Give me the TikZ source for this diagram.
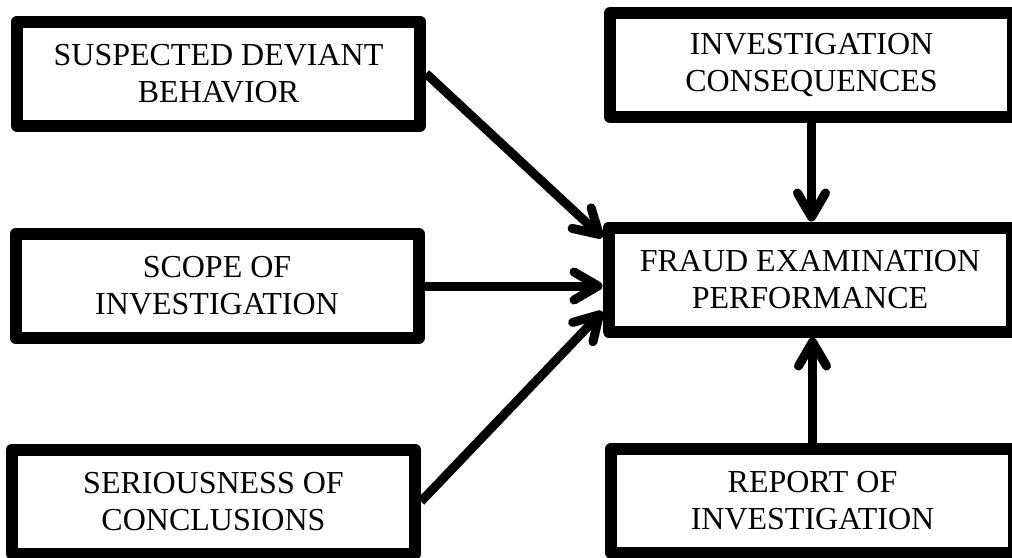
\documentclass[tikz,border=0pt]{standalone}
\usepackage{fontspec}
\setmainfont{Liberation Serif}
\usepackage{tikz}
\usetikzlibrary{arrows.meta}

\begin{document}
\begin{tikzpicture}[
    x=0.5pt, y=-0.5pt,
    every node/.style={font=\fontsize{16}{18.5}\selectfont},
    box/.style={draw, line width=6pt, line join=round, align=center,
                minimum width=201.5pt, minimum height=52pt, inner sep=0pt},
    link/.style={line width=4.5pt, -{Straight Barb[length=12pt,width=14pt,round]}}
]
\useasboundingbox (0,0) rectangle (1012,557);

% Factors on the left
\node[box] (deviant) at (218.5,73.5) {SUSPECTED DEVIANT\\BEHAVIOR};
\node[box] (scope) at (217,286) {SCOPE OF\\INVESTIGATION};
\node[box] (serious) at (213.5,501.5) {SERIOUSNESS OF\\CONCLUSIONS};

% Outcome and factors on the right
\node[box] (conseq) at (811.5,65) {INVESTIGATION\\CONSEQUENCES};
\node[box] (fraud) at (810,279.5) {FRAUD EXAMINATION\\PERFORMANCE};
\node[box] (report) at (812.5,500.5) {REPORT OF\\INVESTIGATION};

% Links into the outcome
\draw[link] (deviant.east) -- ([yshift=21pt]fraud.west);
\draw[link] (scope.east) -- (scope.east -| fraud.west);
\draw[link] (serious.east) -- ([yshift=-16pt]fraud.west);
\draw[link] (conseq.south) -- (conseq.south |- fraud.north);
\draw[link] (report.north) -- (report.north |- fraud.south);

\end{tikzpicture}
\end{document}
